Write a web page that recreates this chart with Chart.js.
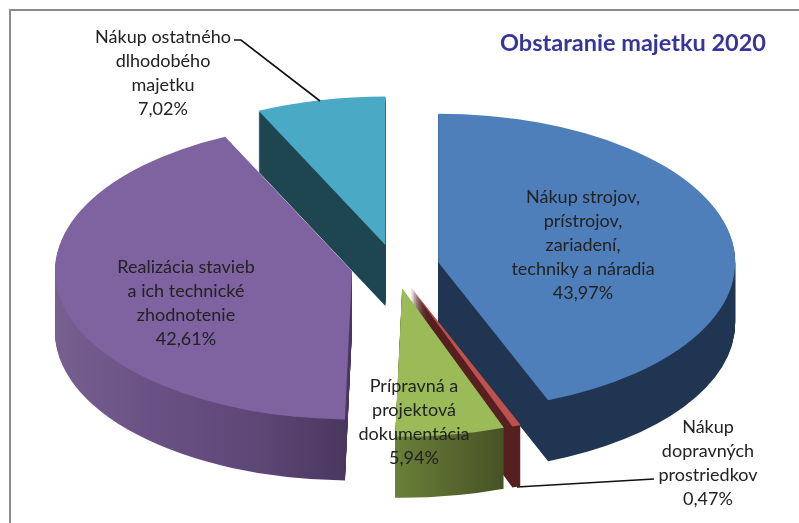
<!DOCTYPE html>
<html>
<head>
<meta charset="utf-8">
<style>html,body{margin:0;padding:0;background:#fff}canvas{display:block}</style>
<script src="https://cdn.jsdelivr.net/npm/chart.js@4"></script>
</head>
<body>
<canvas id="c" width="799" height="523"></canvas>
<script>
const titleText = 'Obstaranie majetku 2020';
const categories = [
  ['Nákup strojov,', 'prístrojov,', 'zariadení,', 'techniky a náradia'],
  ['Nákup', 'dopravných', 'prostriedkov'],
  ['Prípravná a', 'projektová', 'dokumentácia'],
  ['Realizácia stavieb', 'a ich technické', 'zhodnotenie'],
  ['Nákup ostatného', 'dlhodobého', 'majetku']
];
const shares = [43.97, 0.47, 5.94, 42.61, 7.02];
const topColors = ['#4f7fba', '#c0504d', '#9bbb59', '#7f62a0', '#4aa9c4'];
const labelCenters = [[583, 197], [708, 427], [414, 386], [186, 267], [163, 37]];

const PIE_X = 395, PIE_Y = 266.5, SQUASH = 0.5, DEPTH = 61, LINE = 24;
const RADIUS = 297, EXPLODE = 44;
const wallOrder = [4, 3, 0, 1, 2];
const wallStops = [
  [[438, '#1f3552'], [735, '#1f3552']],
  [[503, '#562020'], [521, '#562020']],
  [[396, '#6a8039'], [503, '#465225']],
  [[57, '#76608f'], [150, '#6a5185'], [260, '#5d4776'], [345, '#4a375e']],
  [[260, '#1e4651'], [386, '#1e4651']]
];

function project(ctx, bx, by, dy) {
  ctx.translate(PIE_X, PIE_Y + dy);
  ctx.scale(1, SQUASH);
  ctx.translate(-bx, -by);
}

const pie3d = {
  id: 'pie3d',
  beforeDraw(chart) {
    const ctx = chart.ctx;
    ctx.save();
    ctx.fillStyle = '#fff';
    ctx.fillRect(0, 0, chart.width, chart.height);
    ctx.strokeStyle = '#8c8c8c';
    ctx.lineWidth = 2;
    ctx.beginPath();
    ctx.moveTo(10, chart.height);
    ctx.lineTo(10, 10);
    ctx.lineTo(chart.width, 10);
    ctx.stroke();
    ctx.restore();
  },
  beforeDatasetsDraw(chart) {
    const ctx = chart.ctx;
    const area = chart.chartArea;
    const bx = (area.left + area.right) / 2, by = (area.top + area.bottom) / 2;
    const arcs = chart.getDatasetMeta(0).data;
    arcs.forEach(el => {
      const mid = (el.startAngle + el.endAngle) / 2;
      el.x = bx + Math.cos(mid) * EXPLODE;
      el.y = by + Math.sin(mid) * EXPLODE;
    });
    wallOrder.forEach(i => {
      const el = arcs[i];
      const stops = wallStops[i];
      const x0 = stops[0][0], x1 = stops[stops.length - 1][0];
      const g = ctx.createLinearGradient(x0 - PIE_X + bx, 0, x1 - PIE_X + bx, 0);
      stops.forEach(s => g.addColorStop((s[0] - x0) / (x1 - x0), s[1]));
      for (let d = DEPTH; d >= 1; d--) {
        ctx.save();
        project(ctx, bx, by, d);
        ctx.fillStyle = g;
        ctx.beginPath();
        ctx.moveTo(el.x, el.y);
        ctx.arc(el.x, el.y, el.outerRadius, el.startAngle, el.endAngle);
        ctx.closePath();
        ctx.fill();
        ctx.restore();
      }
    });
    ctx.save();
    project(ctx, bx, by, 0);
  },
  afterDatasetsDraw(chart) {
    const ctx = chart.ctx;
    ctx.restore();
    ctx.save();
    ctx.strokeStyle = '#111';
    ctx.lineWidth = 1.6;
    ctx.beginPath();
    ctx.moveTo(234, 40); ctx.lineTo(241, 40); ctx.lineTo(320, 101);
    ctx.moveTo(517, 487); ctx.lineTo(654, 479);
    ctx.stroke();
    ctx.font = '18px Lato';
    ctx.textAlign = 'center';
    ctx.textBaseline = 'middle';
    ctx.fillStyle = '#222';
    categories.forEach((lines, i) => {
      const [cx, cy] = labelCenters[i];
      const all = lines.concat(shares[i].toFixed(2).replace('.', ',') + '%');
      all.forEach((t, k) => ctx.fillText(t, cx, cy + k * LINE));
    });
    ctx.restore();
  }
};

new Chart(document.getElementById('c'), {
  type: 'pie',
  data: {
    labels: categories.map(l => l.join(' ')),
    datasets: [{
      data: shares,
      backgroundColor: topColors,
      borderWidth: 0,
      clip: false
    }]
  },
  options: {
    responsive: false,
    animation: false,
    radius: RADIUS,
    layout: { padding: { right: 33 } },
    events: [],
    plugins: {
      legend: { display: false },
      tooltip: { enabled: false },
      title: {
        display: true,
        text: titleText,
        align: 'end',
        color: '#35359a',
        font: { family: 'Lato', size: 23.5, weight: 'bold' },
        padding: { top: 29, bottom: 0 }
      }
    }
  },
  plugins: [pie3d]
});
</script>
</body>
</html>
